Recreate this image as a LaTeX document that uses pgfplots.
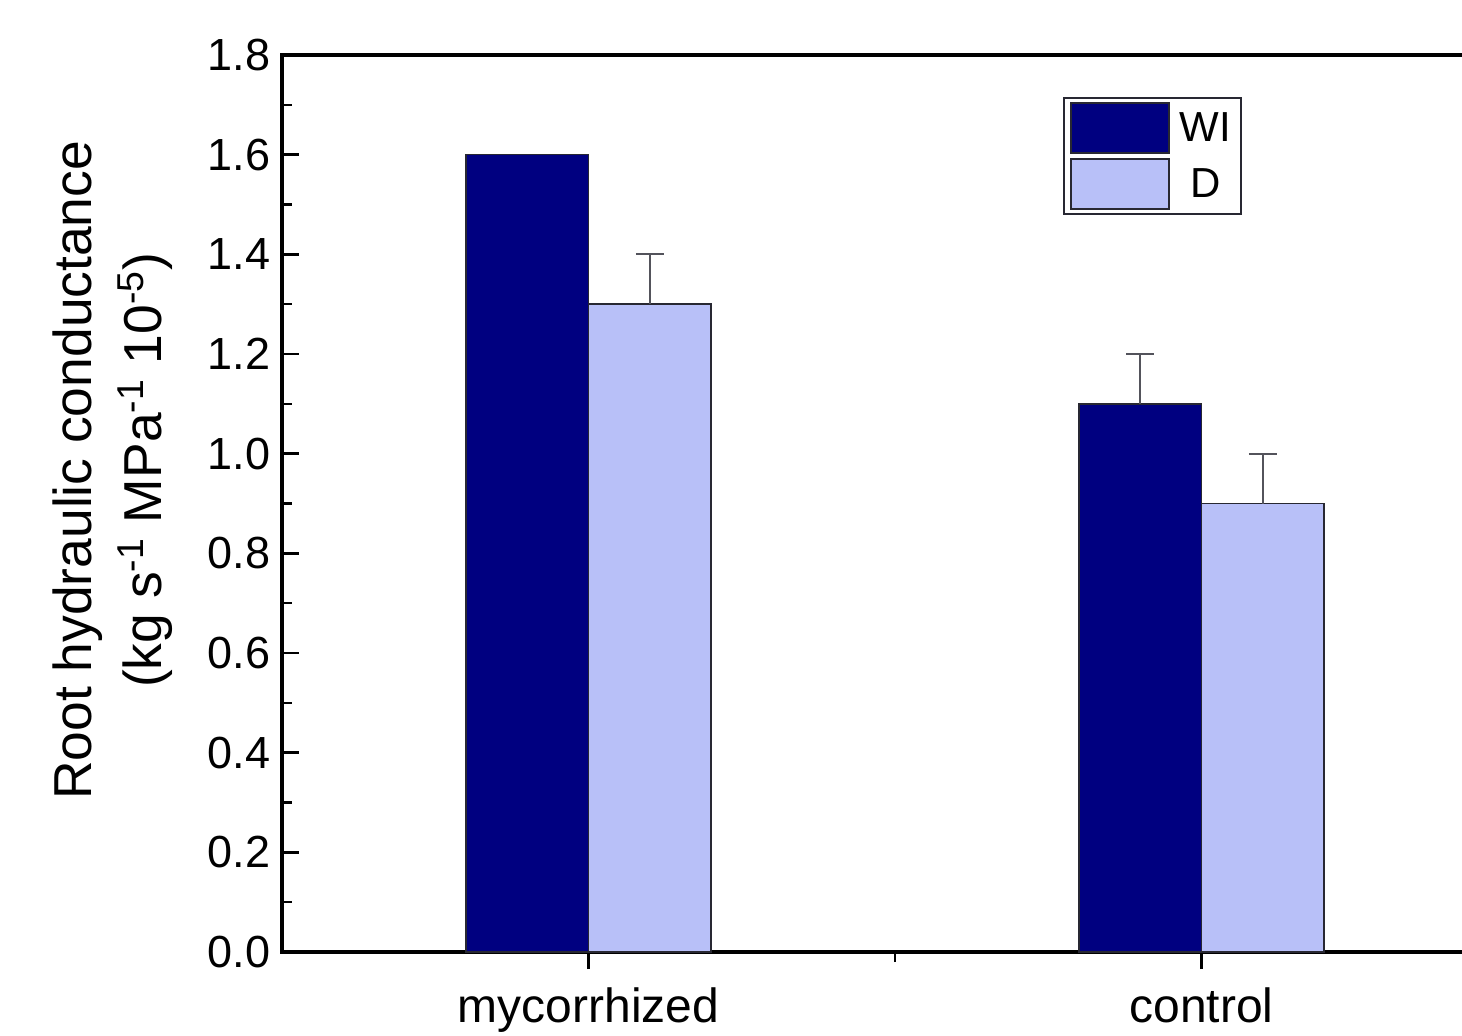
\documentclass[border=0pt]{standalone}
\usepackage{pgfplots}
\pgfplotsset{compat=1.18}
\usepackage{fontspec}
\setmainfont{Liberation Sans}
\definecolor{wi}{RGB}{0,0,128}
\definecolor{dd}{RGB}{184,192,248}
\definecolor{edge}{RGB}{40,40,50}
\begin{document}
\begin{tikzpicture}
\begin{scope}
\clip (-141pt,-41.5pt) rectangle (590pt,476pt);
\begin{axis}[
  at={(0,0)}, anchor=south west,
  scale only axis, width=613pt, height=448.5pt,
  xmin=-0.5, xmax=1.5, ymin=0, ymax=1.8,
  xtick={0,1}, xticklabels={mycorrhized,control},
  minor xtick={0.5},
  ytick={0,0.2,...,1.8}, minor ytick={0.1,0.3,...,1.7},
  xtick pos=lower, ytick pos=left,
  tick align=inside,
  major tick length=8.5pt, minor tick length=5pt,
  every tick/.style={black, line width=1.3pt},
  axis line style={line width=1.6pt, black},
  /pgf/number format/assume math mode=true,
  yticklabel style={/pgf/number format/fixed, /pgf/number format/precision=1, /pgf/number format/fixed zerofill, xshift=-2.3pt, font=\fontsize{22.5}{27}\selectfont},
  xticklabel style={yshift=-6pt, font=\fontsize{24}{28}\selectfont},
  ylabel style={font=\fontsize{26.7}{32}\selectfont, align=center, at={(axis description cs:-0.138,0.537)}, anchor=center},
  ylabel={Root hydraulic conductance\\[3pt](kg s\textsuperscript{-1} MPa\textsuperscript{-1} 10\textsuperscript{-5})},
  ybar, bar width=0.2,
  legend style={font=\fontsize{21}{25}\selectfont, at={(axis description cs:0.637,0.953)}, anchor=north west, draw=edge, line width=1pt, inner xsep=3pt, inner ysep=2pt, row sep=2pt},
  legend cell align=center,
  legend image code/.code={\draw[#1, line width=1pt] (0pt,-12.5pt) rectangle (49pt,12.5pt);},
]
\addplot[fill=wi, draw=edge, line width=0.8pt, bar shift=-0.1]
  coordinates {(0,1.6) (1,1.1)};
\addplot[fill=dd, draw=edge, line width=0.8pt, bar shift=0.1,
  error bars/.cd, y dir=plus, y explicit,
  error bar style={line width=1pt, color=edge!80},
  error mark options={rotate=90, mark size=7pt, line width=1pt, color=edge!80}]
  coordinates {(0,1.3) +- (0,0.1) (1,0.9) +- (0,0.1)};
\addplot[draw=none, fill=none, bar shift=-0.1, forget plot,
  error bars/.cd, y dir=plus, y explicit,
  error bar style={line width=1pt, color=edge!80},
  error mark options={rotate=90, mark size=7pt, line width=1pt, color=edge!80}]
  coordinates {(1,1.1) +- (0,0.1)};
\legend{\hspace{3pt}WI,\hspace{3pt}D}
\end{axis}
\end{scope}
\pgfresetboundingbox
\useasboundingbox (-141pt,-41.5pt) rectangle (590pt,476pt);
\end{tikzpicture}
\end{document}
